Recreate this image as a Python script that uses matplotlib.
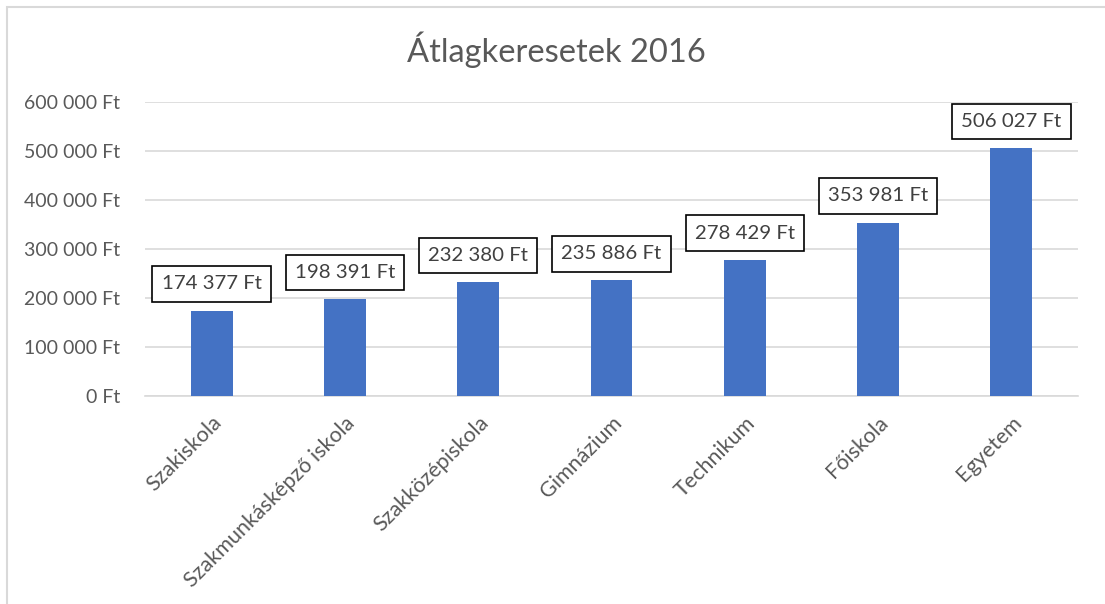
import matplotlib.pyplot as plt
import matplotlib.patches as mpatches

categories = ['Szakiskola', 'Szakmunkásképző iskola', 'Szakközépiskola',
              'Gimnázium', 'Technikum', 'Főiskola', 'Egyetem']
values = [174377, 198391, 232380, 235886, 278429, 353981, 506027]
yticks = [0, 100000, 200000, 300000, 400000, 500000, 600000]

plt.rcParams['font.family'] = ['Lato', 'DejaVu Sans']


def ft(v):
    return f'{v:,}'.replace(',', ' ') + ' Ft'


fig = plt.figure(figsize=(11.05, 6.04), dpi=100)
ax = fig.add_axes([145 / 1105, 1 - 396 / 604, 933 / 1105, 294 / 604])

x = range(len(categories))
ax.bar(x, values, width=0.315, color='#4472C4', zorder=3)
ax.set_xlim(-0.5, len(categories) - 0.5)
ax.set_ylim(0, 600000)
ax.set_yticks(yticks)
ax.set_yticklabels([ft(v) for v in yticks])
ax.set_xticks(list(x))
ax.set_xticklabels(categories, rotation=45, ha='right', rotation_mode='anchor')
ax.tick_params(axis='both', length=0, labelcolor='#595959')
ax.tick_params(axis='y', pad=18, labelsize=14)
ax.tick_params(axis='x', pad=12, labelsize=15.5)
ax.yaxis.grid(True, color='#d9d9d9', linewidth=1.2, zorder=0)
for s in ['top', 'right', 'left']:
    ax.spines[s].set_visible(False)
ax.spines['bottom'].set_color('#d9d9d9')
ax.spines['bottom'].set_linewidth(1.2)

for i, v in enumerate(values):
    ax.annotate(ft(v), (i, v), xytext=(0, 13), textcoords='offset points',
                ha='center', va='bottom', fontsize=14.7, color='#404040',
                bbox=dict(boxstyle='square,pad=0.45', fc='white', ec='black', lw=1.2),
                zorder=5)

fig.text(556 / 1105, 1 - 50 / 604, 'Átlagkeresetek 2016', ha='center', va='center',
         fontsize=23.5, color='#595959')

fig.patches.append(mpatches.Rectangle((7 / 1105, -0.1), 1.2, 1 - 7 / 604 + 0.1,
                                      transform=fig.transFigure, fill=False,
                                      ec='#d9d9d9', lw=1.5))

fig.savefig('out.png', dpi=100)
